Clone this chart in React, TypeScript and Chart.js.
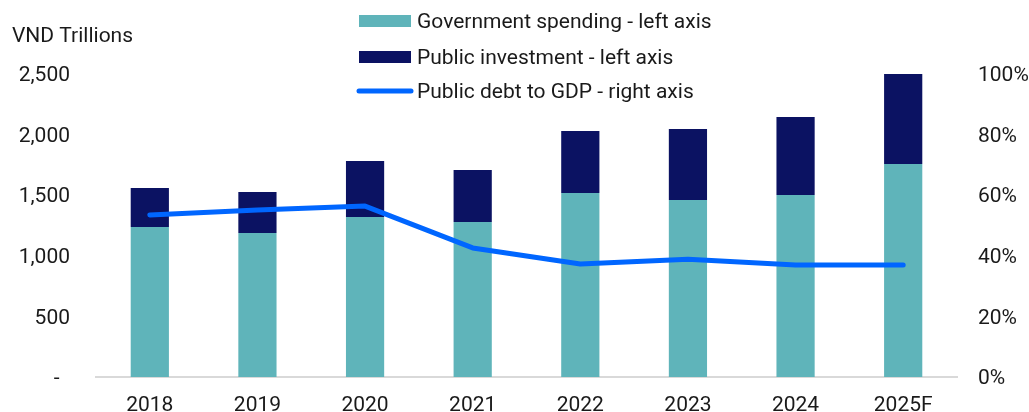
import React, { useEffect, useRef } from "react";
import { Chart, registerables } from "chart.js";

Chart.register(...registerables);

const categories = ["2018", "2019", "2020", "2021", "2022", "2023", "2024", "2025F"];
const govSpending = [1238, 1188, 1320, 1279, 1518, 1460, 1502, 1757];
const publicInvestment = [321, 338, 462, 429, 512, 586, 643, 743];
const debtToGdp = [0.535, 0.551, 0.564, 0.426, 0.373, 0.389, 0.37, 0.37];
const leftTicks = [0, 500, 1000, 1500, 2000, 2500];

const TEAL = "#5FB4BA";
const NAVY = "#0B1262";
const BLUE = "#0066FF";
const FONT = "Roboto";
const FS = 21;

const overlayPlugin = {
  id: "overlay",
  afterDraw(chart: any) {
    const ctx = chart.ctx;
    ctx.save();
    ctx.fillStyle = "#1a1a1a";
    ctx.font = `${FS}px ${FONT}`;
    ctx.textBaseline = "middle";
    ctx.textAlign = "left";
    ctx.fillText("VND Trillions", 12, 37);
    // legend
    const boxX = 359, boxW = 52, textX = 417;
    ctx.fillStyle = TEAL;
    ctx.fillRect(boxX, 15, boxW, 12);
    ctx.fillStyle = NAVY;
    ctx.fillRect(boxX, 51, boxW, 12);
    ctx.strokeStyle = BLUE;
    ctx.lineWidth = 5;
    ctx.lineCap = "round";
    ctx.beginPath();
    ctx.moveTo(359, 91);
    ctx.lineTo(411, 91);
    ctx.stroke();
    ctx.fillStyle = "#1a1a1a";
    ctx.fillText("Government spending - left axis", textX, 23);
    ctx.fillText("Public investment - left axis", textX, 59);
    ctx.fillText("Public debt to GDP - right axis", textX, 93);
    ctx.restore();
  },
};

export default function App() {
  const ref = useRef<HTMLCanvasElement>(null);
  useEffect(() => {
    document.body.style.margin = "0";
    const chart = new Chart(ref.current!, {
      type: "bar",
      data: {
        labels: categories,
        datasets: [
          {
            type: "line",
            label: "Public debt to GDP - right axis",
            data: debtToGdp,
            yAxisID: "y1",
            borderColor: BLUE,
            backgroundColor: BLUE,
            borderWidth: 5,
            borderCapStyle: "round",
            borderJoinStyle: "round",
            pointRadius: 0,
            tension: 0,
            order: 0,
          } as any,
          {
            label: "Government spending - left axis",
            data: govSpending,
            backgroundColor: TEAL,
            yAxisID: "y",
            stack: "s",
            categoryPercentage: 1,
            barPercentage: 0.355,
            order: 1,
          },
          {
            label: "Public investment - left axis",
            data: publicInvestment,
            backgroundColor: NAVY,
            yAxisID: "y",
            stack: "s",
            categoryPercentage: 1,
            barPercentage: 0.355,
            order: 1,
          },
        ],
      },
      options: {
        animation: false,
        responsive: false,
        maintainAspectRatio: false,
        layout: { padding: { top: 74, left: 0, right: 0, bottom: 0 } },
        plugins: {
          legend: { display: false },
          tooltip: { enabled: false },
        },
        scales: {
          x: {
            stacked: true,
            grid: { display: false, drawTicks: false },
            border: { display: true, color: "#d9d9d9", width: 2 },
            ticks: { color: "#1a1a1a", font: { family: FONT, size: FS }, padding: 16 },
            afterFit(scale: any) {
              scale.height = 35;
            },
          },
          y: {
            stacked: true,
            position: "left",
            min: 0,
            max: 2500,
            grid: { display: false, drawTicks: false },
            border: { display: false },
            afterBuildTicks(scale: any) {
              scale.ticks = leftTicks.map((v) => ({ value: v }));
            },
            ticks: {
              color: "#1a1a1a",
              font: { family: FONT, size: FS },
              padding: 26,
              labelOffset: 2,
              callback: (v: any) => (Number(v) === 0 ? "-  " : Number(v).toLocaleString("en-US")),
            },
            afterFit(scale: any) {
              scale.width = 96;
              scale.paddingTop = 0;
              scale.paddingBottom = 0;
            },
          },
          y1: {
            position: "right",
            min: 0,
            max: 1,
            grid: { display: false, drawTicks: false },
            border: { display: false },
            ticks: {
              stepSize: 0.2,
              color: "#1a1a1a",
              font: { family: FONT, size: FS },
              padding: 21,
              labelOffset: 2,
              callback: (v: any) => Math.round(Number(v) * 100) + "%",
            },
            afterFit(scale: any) {
              scale.width = 72;
              scale.paddingTop = 0;
              scale.paddingBottom = 0;
            },
          },
        },
      },
      plugins: [overlayPlugin],
    });
    return () => chart.destroy();
  }, []);
  return (
    <div style={{ width: 1029, height: 412, background: "#fff" }}>
      <canvas ref={ref} width={1029} height={412} style={{ display: "block" }} />
    </div>
  );
}
